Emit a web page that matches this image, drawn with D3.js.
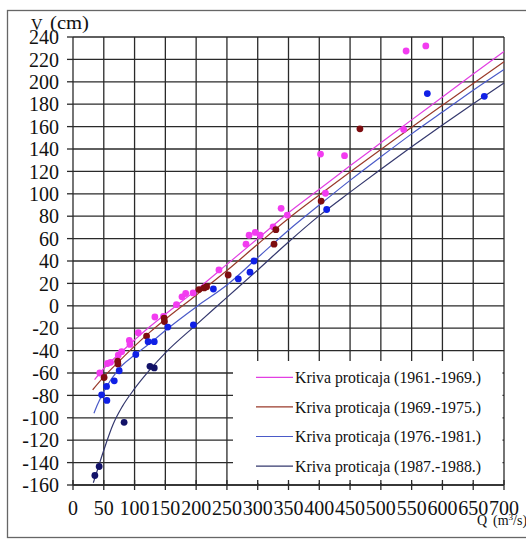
<!DOCTYPE html>
<html>
<head>
<meta charset="utf-8">
<script src="https://cdn.jsdelivr.net/npm/d3@7/dist/d3.min.js"></script>
<style>
  html, body { margin: 0; padding: 0; background: #fff; }
  svg { display: block; }
</style>
</head>
<body>
<svg id="chart" width="526" height="539" font-family="'Liberation Serif', 'DejaVu Serif', 'Times New Roman', serif"></svg>
<script>
// ---- Data ----
const xTicks = [0, 50, 100, 150, 200, 250, 300, 350, 400, 450, 500, 550, 600, 650, 700];
const yTicks = [-160, -140, -120, -100, -80, -60, -40, -20, 0, 20, 40, 60, 80, 100, 120, 140, 160, 180, 200, 220, 240];

const seriesNames = [
  "Kriva proticaja (1961.-1969.)",
  "Kriva proticaja (1969.-1975.)",
  "Kriva proticaja (1976.-1981.)",
  "Kriva proticaja (1987.-1988.)"
];

// measured points [Q, V]
const pts1961 = [[43.5,-60],[56,-51.5],[61,-50.5],[73.5,-44],[79,-41],[91.5,-31],[92.5,-34.5],[106,-24],[133,-10],[147,-9.5],[168,1],[177,8],[183,11],[195,11.5],[237,32],[281,55],[286,63],[296,65.5],[304,63],[325,70.5],[338,87],[348,81],[402,135.5],[410,100.5],[441,134],[537,157.5],[541,227.5],[573,232]];
const pts1969 = [[50.5,-64],[72.5,-49.5],[73,-52],[119.5,-27],[148,-11],[148.5,-14],[204.5,14.5],[213,16],[217,17],[252,27.5],[326.5,55],[329.5,68],[403,93.5],[466,158]];
const pts1976 = [[46.5,-79.5],[54.5,-72],[55,-84.5],[67,-67],[75,-58],[102,-43.5],[122,-32],[132,-32],[154,-19],[195.5,-17],[228,15],[268.5,24],[287.5,30],[294,40],[412,86],[575.5,189.5],[668,187]];
const pts1987 = [[35.5,-151.5],[42.5,-143.5],[83,-104],[125,-54],[132,-55.5]];

// rating curves [Q, V]
const curve1961 = [[35,-66],[50,-56],[75,-43],[100,-30.5],[125,-18.5],[150,-7.5],[200,14],[250,37],[300,60],[350,83],[400,104],[450,125],[500,145.5],[550,166],[600,186.5],[650,207],[700,227]];
const curve1969 = [[32,-75],[50,-63.5],[75,-49.5],[100,-36],[125,-23.5],[150,-12],[200,9.5],[250,31.5],[300,55],[350,78],[400,99],[450,119.5],[500,139.5],[550,159.5],[600,179],[650,198.5],[700,218]];
const curve1976 = [[34,-96],[40,-88],[50,-76.5],[75,-56],[100,-44],[125,-33.5],[150,-22],[200,-1],[250,18.5],[300,43],[350,67.5],[400,90],[450,112],[500,133],[550,153.5],[600,173],[650,192.5],[700,211]];
const curve1987 = [[33,-158],[40,-146],[50,-129],[65,-106],[80,-90],[100,-74],[125,-57],[150,-42],[200,-17],[250,7.5],[300,32],[350,57],[400,80.5],[450,101.5],[500,122],[550,142],[600,161.5],[650,180.5],[700,199]];

const curveColors = ["#e23fe2", "#9a3a2a", "#4a5ac8", "#34386e"];
const pointColors = ["#f23cf0", "#7e0d10", "#1020e6", "#121268"];

// ---- Drawing ----
const svg = d3.select("#chart");
const x = d3.scaleLinear().domain([0, 700]).range([73, 504]);
const y = d3.scaleLinear().domain([-160, 240]).range([485, 37]);

// outer frame
svg.append("rect").attr("x", 7.5).attr("y", 10.5).attr("width", 540).attr("height", 527)
  .attr("fill", "none").attr("stroke", "#666").attr("stroke-width", 1.3);

// grid
const grid = svg.append("g").attr("stroke", "#2a2a2a").attr("stroke-width", 1.3);
grid.selectAll("line.v").data(xTicks).join("line")
  .attr("x1", d => x(d)).attr("x2", d => x(d)).attr("y1", y(240)).attr("y2", y(-160));
grid.selectAll("line.h").data(yTicks).join("line")
  .attr("x1", x(0)).attr("x2", x(700)).attr("y1", d => y(d)).attr("y2", d => y(d));

// curves
const line = d3.line().x(d => x(d[0])).y(d => y(d[1])).curve(d3.curveMonotoneX);
const curves = [curve1961, curve1969, curve1976, curve1987];
svg.append("g").selectAll("path").data(curves).join("path")
  .attr("d", line).attr("fill", "none")
  .attr("stroke", (d, i) => curveColors[i]).attr("stroke-width", 1.2);

// points
const allPts = [pts1961, pts1969, pts1976, pts1987];
allPts.forEach((arr, i) => {
  svg.append("g").selectAll("circle").data(arr).join("circle")
    .attr("cx", d => x(d[0])).attr("cy", d => y(d[1])).attr("r", 3.4)
    .attr("fill", pointColors[i]);
});

// legend box
svg.append("rect").attr("x", 233).attr("y", 361).attr("width", 269.5).attr("height", 122)
  .attr("fill", "#fff");
const legRows = [377.3, 406.9, 436.5, 466.1];
const leg = svg.append("g");
seriesNames.forEach((name, i) => {
  leg.append("line").attr("x1", 256).attr("x2", 293)
    .attr("y1", legRows[i]).attr("y2", legRows[i])
    .attr("stroke", curveColors[i]).attr("stroke-width", 1.2);
  leg.append("text").attr("x", 295).attr("y", legRows[i] + 5.8)
    .attr("font-size", 16).attr("fill", "#111")
    .attr("textLength", 186).attr("lengthAdjust", "spacingAndGlyphs")
    .text(name);
});

// axes
const axis = svg.append("g").attr("stroke", "#2a2a2a").attr("stroke-width", 1.3);
axis.append("line").attr("x1", x(0)).attr("x2", x(700)).attr("y1", y(-160)).attr("y2", y(-160));
axis.selectAll("line.xt").data(xTicks).join("line")
  .attr("x1", d => x(d)).attr("x2", d => x(d)).attr("y1", y(-160) - 5).attr("y2", y(-160) + 5);
axis.selectAll("line.yt").data(yTicks).join("line")
  .attr("x1", x(0) - 6).attr("x2", x(0)).attr("y1", d => y(d)).attr("y2", d => y(d));

// y-axis title (drawn before labels so 240 overlaps it)
svg.append("text").attr("x", 31).attr("y", 30).attr("font-size", 16).attr("fill", "#111").text("V");
svg.append("text").attr("x", 50).attr("y", 29).attr("font-size", 18).attr("fill", "#111")
  .attr("textLength", 39).attr("lengthAdjust", "spacingAndGlyphs").text("(cm)");

// tick labels
svg.append("g").selectAll("text").data(yTicks).join("text")
  .attr("x", 59).attr("y", d => y(d)).attr("dy", "0.36em")
  .attr("text-anchor", "end").attr("font-size", 20).attr("fill", "#111")
  .text(d => d);
svg.append("g").selectAll("text").data(xTicks).join("text")
  .attr("x", d => x(d)).attr("y", 515)
  .attr("text-anchor", "middle").attr("font-size", 20).attr("fill", "#111")
  .text(d => d);

// x-axis title
const xt = svg.append("text").attr("x", 477).attr("y", 525).attr("font-size", 14).attr("fill", "#111");
xt.append("tspan").text("Q");
xt.append("tspan").attr("x", 493).text("(m");
xt.append("tspan").attr("font-size", 9).attr("dy", -5).text("3");
xt.append("tspan").attr("dy", 5).text("/s)");
</script>
</body>
</html>
